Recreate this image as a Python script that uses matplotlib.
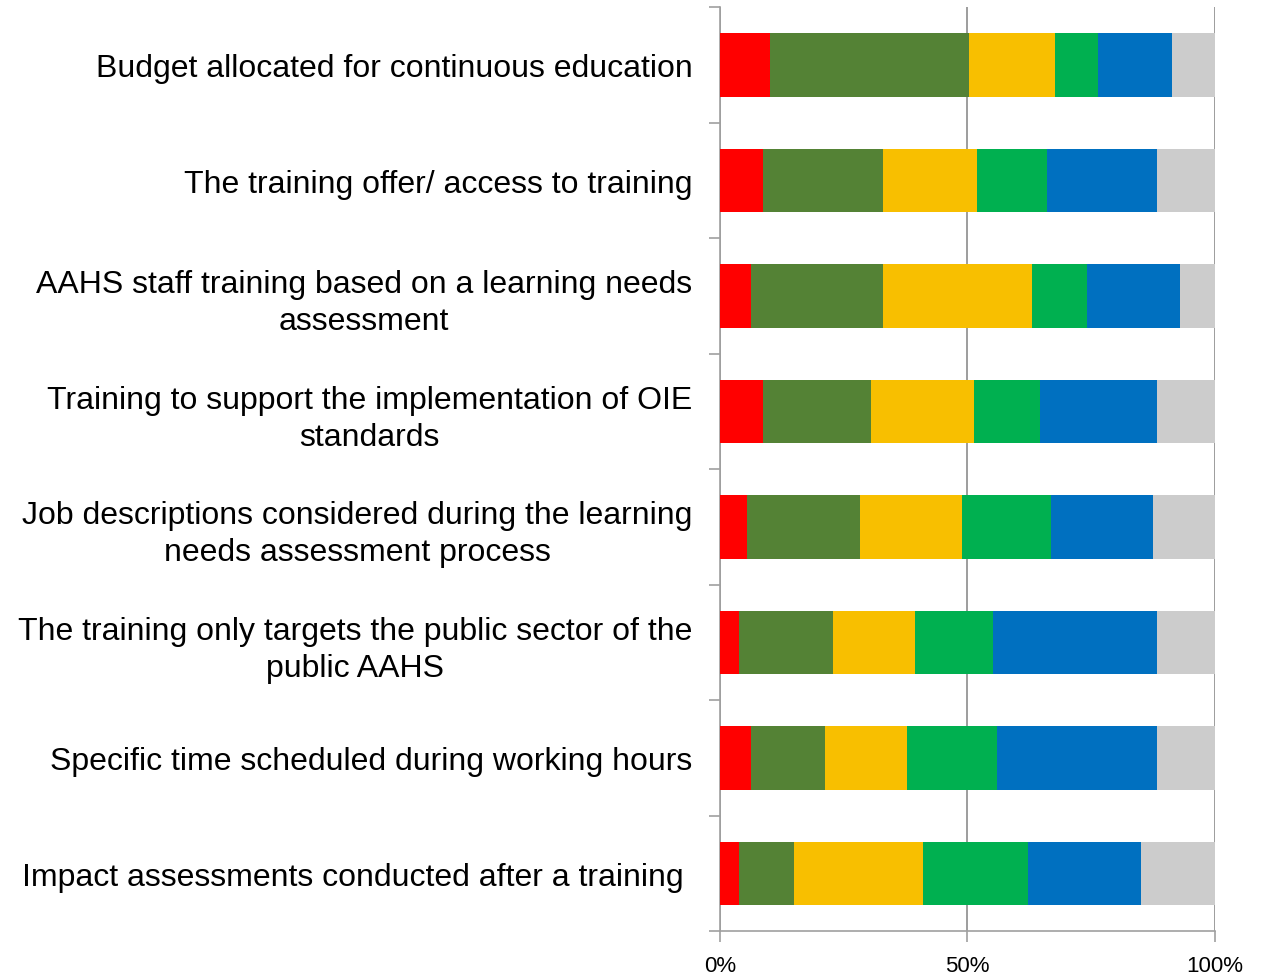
import matplotlib.pyplot as plt
import numpy as np

plt.rcParams['font.family'] = ['Liberation Sans', 'DejaVu Sans']

categories = [
    "Budget allocated for continuous education",
    "The training offer/ access to training",
    "AAHS staff training based on a learning needs\nassessment",
    "Training to support the implementation of OIE\nstandards",
    "Job descriptions considered during the learning\nneeds assessment process",
    "The training only targets the public sector of the\npublic AAHS",
    "Specific time scheduled during working hours",
    "Impact assessments conducted after a training ",
]

# shares (%) per segment, left to right
seg_red = [10.1, 8.6, 6.2, 8.6, 5.4, 3.8, 6.2, 3.8]
seg_dkgreen = [40.2, 24.3, 26.7, 22.0, 22.8, 19.0, 15.0, 11.1]
seg_yellow = [17.4, 19.0, 30.1, 20.7, 20.6, 16.5, 16.6, 26.1]
seg_green = [8.6, 14.2, 11.1, 13.4, 18.1, 15.8, 18.1, 21.2]
seg_blue = [15.0, 22.1, 18.9, 23.6, 20.5, 33.1, 32.3, 22.8]
seg_gray = [8.7, 11.8, 7.0, 11.7, 12.6, 11.8, 11.8, 15.0]

series = [seg_red, seg_dkgreen, seg_yellow, seg_green, seg_blue, seg_gray]
colors = ['#FF0000', '#548235', '#F8BF00', '#00B050', '#0070C0', '#CCCCCC']

fig = plt.figure(figsize=(12.69, 9.78), dpi=100)
ax = fig.add_axes([0.5674, 0.047, 0.39, 0.9448])

y = np.arange(len(categories))
left = np.zeros(len(categories))
for vals, col in zip(series, colors):
    vals = np.array(vals)
    ax.barh(y, vals, left=left, height=0.55, color=col, edgecolor='none', zorder=3)
    left += vals

ax.set_xlim(0, 100)
ax.set_ylim(len(categories) - 0.5, -0.5)

ax.set_xticks([0, 50, 100])
ax.set_xticklabels(['0%', '50%', '100%'])
ax.set_yticks(y)
ax.set_yticklabels(categories, ha='right', multialignment='center', linespacing=1.3)
ax.set_yticks(np.arange(-0.5, len(categories), 1), minor=True)

ax.tick_params(axis='y', which='major', length=0, pad=20, labelsize=23)
ax.tick_params(axis='y', which='minor', length=8, color='#A0A0A0', width=1.2)
ax.tick_params(axis='x', which='major', length=8, color='#A0A0A0', width=1.2,
               labelsize=16, pad=9)

ax.grid(True, axis='x', color='#8C8C8C', linewidth=1.2, zorder=0)
for side in ['top', 'right']:
    ax.spines[side].set_visible(False)
for side in ['left', 'bottom']:
    ax.spines[side].set_color('#A0A0A0')
    ax.spines[side].set_linewidth(1.2)

fig.savefig('out.png', dpi=100)
